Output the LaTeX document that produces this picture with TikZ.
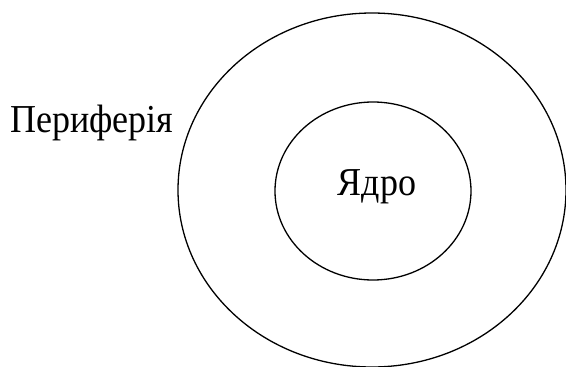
\documentclass[tikz,border=0pt]{standalone}
\usepackage{fontspec}
\setmainfont{Liberation Serif}
\begin{document}
\begin{tikzpicture}[x=1pt,y=-1pt,
  lbl/.style={font=\fontsize{36}{40}\selectfont,inner sep=0pt,yscale=1.1}]
\useasboundingbox (0,0) rectangle (566,367);
\draw[line width=1.3pt] (372,190) ellipse [x radius=194, y radius=177];
\draw[line width=1.3pt] (373,191) ellipse [x radius=98, y radius=89];
\node[lbl,anchor=base west] (per) at (10,132) {Периферія};
\node[lbl,anchor=base] (core) at (377,195) {Ядро};
\end{tikzpicture}
\end{document}
